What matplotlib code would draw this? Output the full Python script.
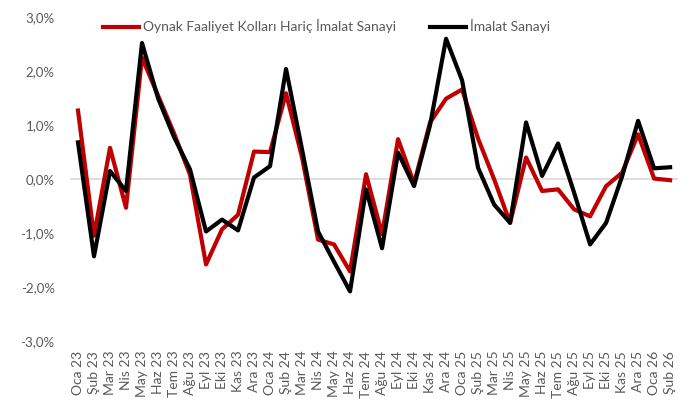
import matplotlib
matplotlib.use("Agg")
import matplotlib.pyplot as plt
from matplotlib.ticker import FuncFormatter

months = ["Oca 23", "Şub 23", "Mar 23", "Nis 23", "May 23", "Haz 23", "Tem 23", "Ağu 23",
          "Eyl 23", "Eki 23", "Kas 23", "Ara 23",
          "Oca 24", "Şub 24", "Mar 24", "Nis 24", "May 24", "Haz 24", "Tem 24", "Ağu 24",
          "Eyl 24", "Eki 24", "Kas 24", "Ara 24",
          "Oca 25", "Şub 25", "Mar 25", "Nis 25", "May 25", "Haz 25", "Tem 25", "Ağu 25",
          "Eyl 25", "Eki 25", "Kas 25", "Ara 25",
          "Oca 26", "Şub 26"]

oynak_haric = [1.27, -1.05, 0.58, -0.53, 2.25, 1.55, 0.85, 0.08,
               -1.58, -0.93, -0.66, 0.51,
               0.50, 1.59, 0.40, -1.12, -1.21, -1.71, 0.09, -1.02,
               0.74, -0.08, 1.05, 1.49,
               1.66, 0.75, 0.00, -0.81, 0.40, -0.22, -0.19, -0.56,
               -0.69, -0.13, 0.12, 0.83,
               0.01, -0.02]

imalat = [0.68, -1.43, 0.15, -0.22, 2.52, 1.50, 0.78, 0.18,
          -0.97, -0.75, -0.95, 0.03,
          0.24, 2.04, 0.55, -0.97, -1.53, -2.08, -0.19, -1.28,
          0.49, -0.13, 1.00, 2.60,
          1.83, 0.21, -0.47, -0.81, 1.05, 0.06, 0.66, -0.25,
          -1.21, -0.81, 0.05, 1.08,
          0.20, 0.22]

yticks = [-3, -2, -1, 0, 1, 2, 3]

FONT = ["Lato", "DejaVu Sans"]
GRAY = "#595959"

fig = plt.figure(figsize=(6.95, 4.08), dpi=100)
ax = fig.add_axes([0.1007, 0.164, 0.875, 0.794])

x = list(range(len(months)))
ax.axhline(0, color="#D9D9D9", lw=1.2, zorder=1)
ax.plot(x, oynak_haric, color="#C00000", lw=3.0, solid_joinstyle="round",
        label="Oynak Faaliyet Kolları Hariç İmalat Sanayi", zorder=2)
ax.plot(x, imalat, color="#000000", lw=3.0, solid_joinstyle="round",
        label="İmalat Sanayi", zorder=3)

ax.set_xlim(-0.5, len(months) - 0.5)
ax.set_ylim(-3, 3)
ax.set_yticks(yticks)
ax.yaxis.set_major_formatter(FuncFormatter(lambda v, p: f"{v:.1f}%".replace(".", ",")))
ax.set_xticks(x)
ax.set_xticklabels(months, rotation=90)

for s in ax.spines.values():
    s.set_visible(False)
ax.tick_params(axis="both", length=0, colors=GRAY)
ax.tick_params(axis="y", pad=11)
ax.tick_params(axis="x", pad=7)
for lab in ax.get_yticklabels():
    lab.set_fontfamily(FONT)
    lab.set_fontsize(9.5)
    lab.set_color(GRAY)
for lab in ax.get_xticklabels():
    lab.set_fontfamily(FONT)
    lab.set_fontsize(10)
    lab.set_color(GRAY)

leg = ax.legend(loc="upper left", bbox_to_anchor=(0.045, 1.01), ncol=2, frameon=False,
                prop={"family": FONT, "size": 10}, handlelength=2.6, handletextpad=0.3,
                columnspacing=2.4, borderaxespad=0)
for t in leg.get_texts():
    t.set_color(GRAY)

fig.savefig("out.png", dpi=100)
